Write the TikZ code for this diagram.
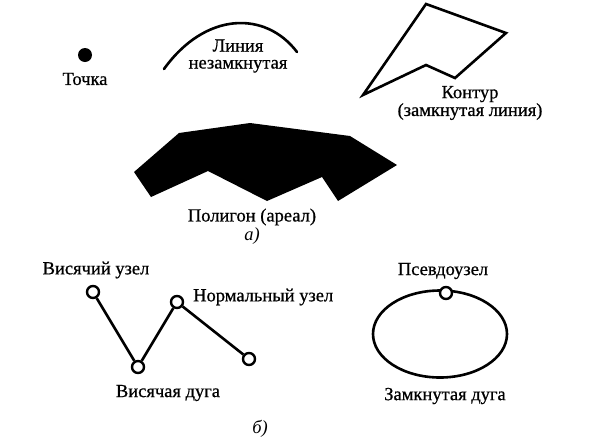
\documentclass[tikz,border=0pt]{standalone}
\usepackage{fontspec}
\setmainfont[BoldFont={Liberation Serif}, BoldFeatures={FakeBold=0.7}]{Liberation Serif}
\usetikzlibrary{shapes.geometric}
\begin{document}
\begin{tikzpicture}[x=1pt,y=-1pt,
  lbl/.style={font=\fontsize{18.5}{15.5}\selectfont\bfseries, inner sep=0pt, align=center},
  thick line/.style={line width=2.6pt, line join=miter},
  vert/.style={circle, draw, line width=2.4pt, fill=white, minimum size=12pt, inner sep=0pt}]
\useasboundingbox (0,0) rectangle (591,437);
% point
\fill (85,55) circle (7);
\node[lbl] (tochka) at (85,79) {Точка};
% open line
\draw[thick line, line cap=round] (164,69) .. controls (205,12) and (265,10) .. (297,52);
\node[lbl] (lin) at (238,56) {Линия\\[1.5pt]незамкнутая};
% contour
\draw[thick line] (426,4) -- (506,33) -- (455,78) -- (426,65) -- (363,95) -- cycle;
\node[lbl] (kont) at (470,103) {Контур\\(замкнутая линия)};
% polygon
\fill (179,133) -- (250,123) -- (350,136) -- (397,165) -- (338,201) -- (322,177)
  -- (267,201) -- (208,171) -- (151,197) -- (134,172) -- cycle;
\node[lbl] (poly) at (252,217) {Полигон (ареал)};
\node[lbl] (a) at (252,236) {\itshape а)};
% graph
\node[vert] (n1) at (93,292) {};
\node[vert] (n2) at (138,367) {};
\node[vert] (n3) at (177,302) {};
\node[vert] (n4) at (249,359) {};
\draw[thick line] (n1) -- (n2);
\draw[thick line] (n2) -- (n3);
\draw[thick line] (n3) -- (n4);
\node[lbl] (visuz) at (96,270) {Висячий узел};
\node[lbl, anchor=west] (normuz) at (193,297) {Нормальный узел};
\node[lbl] (visd) at (168,393) {Висячая дуга};
\node[lbl] (b) at (260,429) {\itshape б)};
% closed arc
\node[ellipse, draw, line width=2.6pt, minimum width=134pt, minimum height=87pt, inner sep=0pt] (ell) at (440,334) {};
\node[vert] (pseudo) at (446,293) {};
\node[lbl] (pslbl) at (443,271) {Псевдоузел};
\node[lbl] (zamd) at (445,396) {Замкнутая дуга};
\end{tikzpicture}
\end{document}
